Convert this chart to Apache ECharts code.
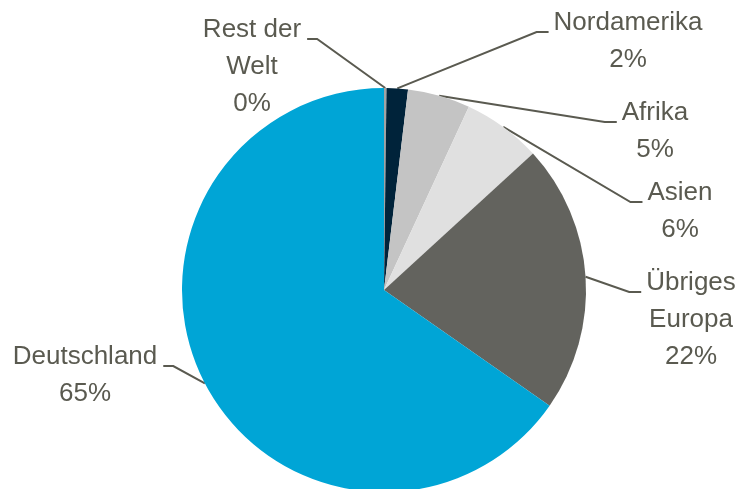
<!DOCTYPE html>
<html>
<head>
<meta charset="utf-8">
<script src="https://cdn.jsdelivr.net/npm/echarts@6/dist/echarts.min.js"></script>
<style>
  html, body { margin: 0; padding: 0; background: #fff; }
  #chart { width: 741px; height: 489px; }
</style>
</head>
<body>
<div id="chart"></div>
<script>
// shares in percent, clockwise from 12 o'clock
const categories = ['Rest der\nWelt', 'Nordamerika', 'Afrika', 'Asien', 'Übriges\nEuropa', 'Deutschland']
const shares = [0.2, 1.7, 5.0, 6.3, 21.5, 65.3]
const colors = ['#a3a3a3', '#00233a', '#c4c4c4', '#e0e0e0', '#63635e', '#00a5d6']

// label placement: centre x, centre y of first text line
const labelAnchor = [[252, 30], [628, 23], [655, 113], [680, 193], [691, 283], [85, 357]]
const textColor = '#5a5a50'
const lineH = 37

const chart = echarts.init(document.getElementById('chart'))

chart.setOption({
  animation: false,
  series: [
    {
      type: 'pie',
      center: [384, 290],
      radius: 202,
      startAngle: 90,
      clockwise: true,
      avoidLabelOverlap: false,
      data: categories.map((name, i) => ({
        name: name,
        value: shares[i],
        itemStyle: { color: colors[i] }
      })),
      itemStyle: { borderWidth: 0 },
      label: {
        show: true,
        position: 'outside',
        color: textColor,
        fontFamily: '"Liberation Sans", Arial, sans-serif',
        fontSize: 26,
        lineHeight: lineH,
        align: 'center',
        formatter: p => p.name + '\n' + Math.round(p.value) + '%'
      },
      labelLine: {
        show: true,
        lineStyle: { color: textColor, width: 2 }
      },
      labelLayout: function (params) {
        const i = params.dataIndex
        const cx = labelAnchor[i][0]
        const cy = labelAnchor[i][1]
        const w = params.labelRect.width
        const p0 = params.labelLinePoints ? params.labelLinePoints[0] : [384, 290]
        const ly = cy + 9
        let endX, elbowX
        if (cx > 384) {
          endX = cx - w / 2 - 5
          elbowX = endX - 12
        } else {
          endX = cx + w / 2 + 6
          elbowX = endX + 10
        }
        return {
          x: cx,
          y: cy - lineH / 2,
          align: 'center',
          verticalAlign: 'top',
          labelLinePoints: [p0, [elbowX, ly], [endX, ly]]
        }
      },
      emphasis: { disabled: true }
    }
  ]
})
</script>
</body>
</html>
